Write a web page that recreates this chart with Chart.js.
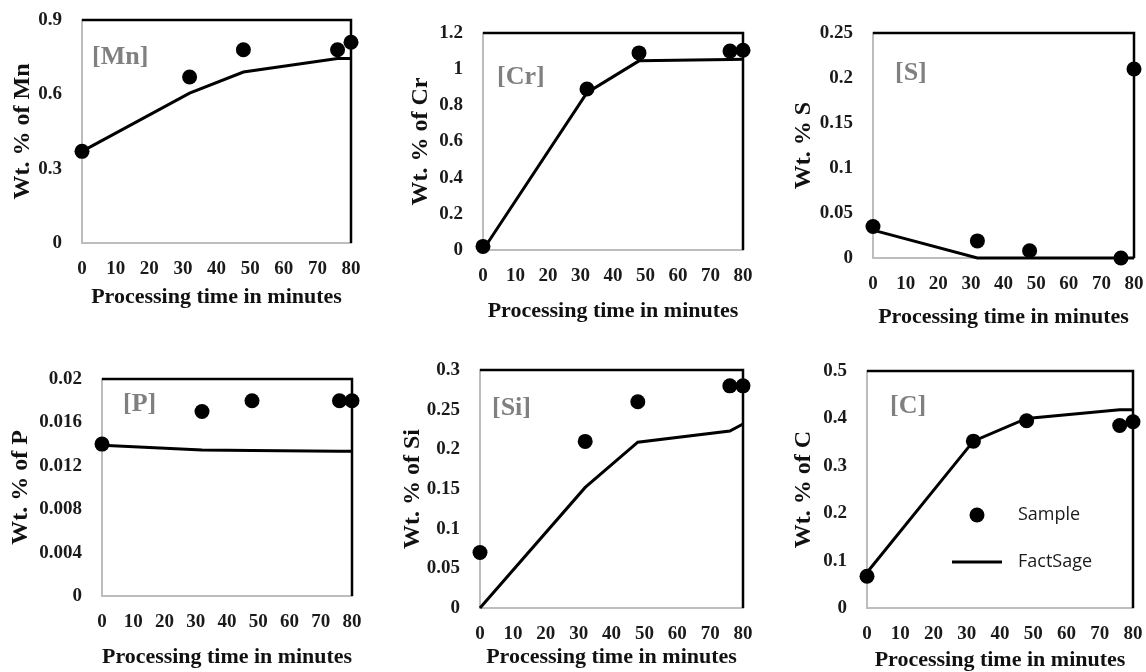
<!DOCTYPE html>
<html>
<head>
<meta charset="utf-8">
<script src="https://cdn.jsdelivr.net/npm/chart.js@4.4.1/dist/chart.umd.min.js"></script>
<style>
  html, body { margin: 0; padding: 0; background: #fff; width: 1146px; height: 672px; overflow: hidden; }
  canvas { position: absolute; }
</style>
</head>
<body>
<script>
"use strict";

// processing time (min) of every sample / model point
const times = [0, 32, 48, 76, 80];

const mnSample = [0.37, 0.67, 0.78, 0.78, 0.81];
const mnModel  = [0.37, 0.605, 0.69, 0.745, 0.745];

const crSample = [0.02, 0.89, 1.09, 1.10, 1.105];
const crModel  = [0, 0.87, 1.046, 1.054, 1.055];

const sSample = [0.035, 0.019, 0.008, 0.0, 0.21];
const sModel  = [0.031, 0, 0, 0, 0];

const pSample = [0.014, 0.017, 0.018, 0.018, 0.018];
const pModel  = [0.0139, 0.01345, 0.0134, 0.01335, 0.01335];

const siSample = [0.07, 0.21, 0.26, 0.28, 0.28];
const siModel  = [0, 0.152, 0.209, 0.223, 0.232];

const cSample = [0.067, 0.352, 0.395, 0.385, 0.393];
const cModel  = [0.075, 0.352, 0.40, 0.418, 0.418];

const xTicks = { min: 0, max: 80, step: 10 };

const SERIF = '"Liberation Serif", "Times New Roman", serif';
const SANS = '"Open Sans", "Liberation Sans", sans-serif';

// layout of each panel: plot rectangle in page pixels + a few offsets
const panels = [
  { tag: "[Mn]", yTitle: "Wt. % of Mn", sample: mnSample, model: mnModel, yMax: 0.9, yStep: 0.3,
    box: { l: 82, t: 20, r: 351, b: 243 }, yGap: 60, xGap: 55, tagPos: [10, 37] },
  { tag: "[Cr]", yTitle: "Wt. % of Cr", sample: crSample, model: crModel, yMax: 1.2, yStep: 0.2,
    box: { l: 483, t: 33, r: 743, b: 250 }, yGap: 63, xGap: 62, tagPos: [14, 44] },
  { tag: "[S]", yTitle: "Wt. % S", sample: sSample, model: sModel, yMax: 0.25, yStep: 0.05,
    box: { l: 873, t: 33, r: 1134, b: 258 }, yGap: 70, xGap: 60, tagPos: [22, 40] },
  { tag: "[P]", yTitle: "Wt. % of P", sample: pSample, model: pModel, yMax: 0.02, yStep: 0.004,
    box: { l: 102, t: 379, r: 352, b: 596 }, yGap: 82, xGap: 62, tagPos: [21, 25] },
  { tag: "[Si]", yTitle: "Wt. % of Si", sample: siSample, model: siModel, yMax: 0.3, yStep: 0.05,
    box: { l: 480, t: 370, r: 743, b: 608 }, yGap: 68, xGap: 50, tagPos: [12, 38] },
  { tag: "[C]", yTitle: "Wt. % of C", sample: cSample, model: cModel, yMax: 0.5, yStep: 0.1,
    box: { l: 867, t: 371, r: 1133, b: 608 }, yGap: 64, xGap: 53, tagPos: [23, 35], legend: true },
];

const TOP_PAD = 20;
const RIGHT_PAD = 25;
const XH = 75;

const pts = (ys) => times.map((t, i) => ({ x: t, y: ys[i] }));
const fmt = (v) => String(parseFloat(Number(v).toFixed(6)));

// black top/right frame + grey element tag
const framePlugin = {
  id: "frame",
  beforeDatasetsDraw(chart, args, opts) {
    const a = chart.chartArea, c = chart.ctx;
    c.save();
    c.strokeStyle = "#000";
    c.lineWidth = 2.5;
    c.beginPath();
    c.moveTo(a.left, a.top);
    c.lineTo(a.right, a.top);
    c.lineTo(a.right, a.bottom);
    c.stroke();
    c.font = "bold 26px " + SERIF;
    c.fillStyle = "#808080";
    c.textAlign = "left";
    c.textBaseline = "middle";
    c.fillText(opts.tag, a.left + opts.pos[0], a.top + opts.pos[1]);
    c.restore();
  },
};

// Sample / FactSage key inside the [C] panel
const keyPlugin = {
  id: "key",
  afterDatasetsDraw(chart, args, opts) {
    if (!opts.show) return;
    const a = chart.chartArea, c = chart.ctx;
    c.save();
    c.fillStyle = "#000";
    c.beginPath();
    c.arc(a.left + 110, a.top + 144, 7.5, 0, Math.PI * 2);
    c.fill();
    c.strokeStyle = "#000";
    c.lineWidth = 3;
    c.beginPath();
    c.moveTo(a.left + 85, a.top + 191);
    c.lineTo(a.left + 135, a.top + 191);
    c.stroke();
    c.font = "18px " + SANS;
    c.fillStyle = "#1a1a1a";
    c.textAlign = "left";
    c.textBaseline = "middle";
    c.fillText("Sample", a.left + 151, a.top + 144);
    c.fillText("FactSage", a.left + 151, a.top + 191);
    c.restore();
  },
};

function makePanel(p) {
  const yw = p.yGap + 16;
  const cv = document.createElement("canvas");
  const w = yw + (p.box.r - p.box.l) + RIGHT_PAD;
  const h = TOP_PAD + (p.box.b - p.box.t) + XH;
  cv.width = w;
  cv.height = h;
  cv.style.left = (p.box.l - yw) + "px";
  cv.style.top = (p.box.t - TOP_PAD) + "px";
  cv.style.width = w + "px";
  cv.style.height = h + "px";
  document.body.appendChild(cv);

  new Chart(cv, {
    type: "scatter",
    data: {
      datasets: [
        { label: "Sample", data: pts(p.sample), showLine: false, pointRadius: 7.5,
          pointBackgroundColor: "#000", pointBorderWidth: 0, clip: false },
        { label: "FactSage", data: pts(p.model), showLine: true, pointRadius: 0,
          borderColor: "#000", borderWidth: 3, clip: false },
      ],
    },
    plugins: [framePlugin, keyPlugin],
    options: {
      responsive: false,
      animation: false,
      devicePixelRatio: 1,
      events: [],
      layout: { padding: { top: TOP_PAD, right: RIGHT_PAD, left: 0, bottom: 0 } },
      scales: {
        x: {
          type: "linear", min: xTicks.min, max: xTicks.max,
          grid: { display: false, drawTicks: false },
          border: { color: "#bdbdbd", width: 2 },
          ticks: { stepSize: xTicks.step, padding: 15, color: "#1a1a1a", callback: fmt,
            font: { family: SERIF, size: 19, weight: "bold" } },
          title: { display: true, text: "Processing time in minutes", color: "#111",
            font: { family: SERIF, size: 22, weight: "bold" },
            padding: { top: 0, bottom: XH - 13 - p.xGap } },
          afterFit: (s) => { s.height = XH; },
        },
        y: {
          type: "linear", min: 0, max: p.yMax,
          grid: { display: false, drawTicks: false },
          border: { color: "#bdbdbd", width: 2 },
          ticks: { stepSize: p.yStep, padding: 20, color: "#1a1a1a", callback: fmt,
            font: { family: SERIF, size: 19, weight: "bold" } },
          title: { display: true, text: p.yTitle, color: "#111",
            font: { family: SERIF, size: 24, weight: "bold" },
            padding: { top: 2, bottom: 0 } },
          afterFit: (s) => { s.width = yw; s.paddingTop = 0; s.paddingBottom = 0; },
        },
      },
      plugins: {
        legend: { display: false },
        tooltip: { enabled: false },
        frame: { tag: p.tag, pos: p.tagPos },
        key: { show: !!p.legend },
      },
    },
  });
}

panels.forEach(makePanel);
</script>
</body>
</html>
